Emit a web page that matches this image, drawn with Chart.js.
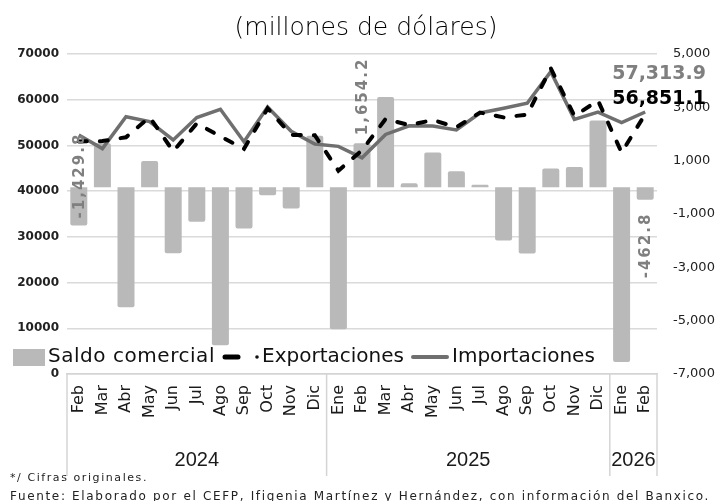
<!DOCTYPE html>
<html>
<head>
<meta charset="utf-8">
<script src="https://cdn.jsdelivr.net/npm/chart.js@4/dist/chart.umd.min.js"></script>
<style>
  html, body { margin: 0; padding: 0; background: #fff; }
</style>
</head>
<body>
<canvas id="chartSaldo" width="717" height="501"></canvas>
<script>
// meses de feb-2024 a feb-2026
const meses = ['Feb', 'Mar', 'Abr', 'May', 'Jun', 'Jul', 'Ago', 'Sep', 'Oct', 'Nov', 'Dic',
               'Ene', 'Feb', 'Mar', 'Abr', 'May', 'Jun', 'Jul', 'Ago', 'Sep', 'Oct', 'Nov', 'Dic',
               'Ene', 'Feb'];
const anios = ['2024', '2025', '2026'];
const mesesPorAnio = [11, 12, 2];

// millones de dolares
const saldoComercial = [-1429.8, 1650, -4500, 990, -2470, -1290, -5920, -1540, -300, -790, 1930,
                        -5320, 1654.2, 3390, 150, 1310, 600, 100, -1990, -2480, 710, 760, 2510,
                        -6550, -462.8];
const exportaciones = [50860, 50950, 51790, 56190, 48720, 54810, 51980, 49260, 58100, 52310, 52230,
                       44480, 48950, 55790, 54450, 55560, 53980, 57200, 56130, 56740, 66850, 56460, 59810,
                       48450, 56851.1];
const importaciones = [52290, 49300, 56290, 55200, 51190, 56100, 57900, 50800, 58400, 53100, 50300,
                       49800, 47300, 52400, 54300, 54250, 53380, 57100, 58120, 59220, 66140, 55700, 57300,
                       55000, 57313.9];

const FUENTE = 'DejaVu Sans';
const GRIS_BARRA = '#b9b9b9';
const GRIS_LINEA = '#6f6f6f';

const fmt = v => v.toLocaleString('en-US', { minimumFractionDigits: 1, maximumFractionDigits: 1 });

// estira el texto con letterSpacing hasta el ancho pedido
function textoAncho(ctx, txt, x, y, ancho) {
    ctx.letterSpacing = '0px';
    const w = ctx.measureText(txt).width;
    ctx.letterSpacing = ((ancho - w) / txt.length) + 'px';
    ctx.fillText(txt, x, y);
    ctx.letterSpacing = '0px';
}

const decoraciones = {
    id: 'decoraciones',
    afterDraw(chart) {
        const { ctx, chartArea: area, scales } = chart;
        const x = scales.x, yIzq = scales.y, yDer = scales.y1;
        ctx.save();

        // titulo
        ctx.fillStyle = '#000';
        ctx.font = `200 25px "${FUENTE}"`;
        ctx.textAlign = 'center';
        ctx.textBaseline = 'alphabetic';
        ctx.fillText('(millones de dólares)', 366, 35);

        // etiquetas rotadas del saldo
        ctx.fillStyle = '#7f7f7f';
        ctx.font = `bold 15px "${FUENTE}"`;
        ctx.letterSpacing = '2px';
        ctx.textBaseline = 'middle';
        [[0, 'left', 7], [12, 'left', 8], [24, 'right', -13]].forEach(([i, alin, desp]) => {
            const px = x.getPixelForValue(i);
            const py = yDer.getPixelForValue(saldoComercial[i]);
            ctx.save();
            ctx.translate(px + 1, py);
            ctx.rotate(-Math.PI / 2);
            ctx.textAlign = alin;
            ctx.fillText(fmt(saldoComercial[i]), desp, 0);
            ctx.restore();
        });
        ctx.letterSpacing = '0px';

        // ultimos valores de las lineas
        const ult = meses.length - 1;
        ctx.textAlign = 'left';
        ctx.textBaseline = 'alphabetic';
        ctx.font = `bold 19px "${FUENTE}"`;
        ctx.fillStyle = '#7f7f7f';
        ctx.fillText(fmt(importaciones[ult]), x.getPixelForValue(ult) - 33, yIzq.getPixelForValue(importaciones[ult]) - 33);
        ctx.fillStyle = '#000';
        ctx.fillText(fmt(exportaciones[ult]), x.getPixelForValue(ult) - 33, yIzq.getPixelForValue(exportaciones[ult]) - 10);

        // leyenda dentro del area
        const ly = 357;
        const ds = chart.data.datasets;
        ctx.font = `20px "${FUENTE}"`;
        ctx.textBaseline = 'middle';
        ctx.fillStyle = GRIS_BARRA;
        ctx.fillRect(13, 349, 32, 17);
        ctx.fillStyle = '#111';
        textoAncho(ctx, ds[0].label, 48, ly, 167);
        ctx.strokeStyle = '#000';
        ctx.lineWidth = 5;
        ctx.lineCap = 'round';
        ctx.beginPath(); ctx.moveTo(225, ly); ctx.lineTo(238, ly); ctx.stroke();
        ctx.beginPath(); ctx.arc(257, ly, 1.8, 0, Math.PI * 2); ctx.fill();
        ctx.fillText(ds[1].label, 262, ly);
        ctx.strokeStyle = GRIS_LINEA;
        ctx.lineWidth = 4;
        ctx.beginPath(); ctx.moveTo(413, ly); ctx.lineTo(447, ly); ctx.stroke();
        ctx.fillText(ds[2].label, 452, ly);

        // anios bajo los meses
        const borde = i => i === 0 ? area.left : (i === meses.length ? area.right
            : (x.getPixelForValue(i - 1) + x.getPixelForValue(i)) / 2);
        ctx.strokeStyle = '#d4d4d4';
        ctx.lineWidth = 1.5;
        ctx.lineCap = 'butt';
        ctx.font = `20px "Liberation Sans"`;
        ctx.fillStyle = '#1a1a1a';
        ctx.textAlign = 'center';
        ctx.textBaseline = 'alphabetic';
        let inicio = 0;
        anios.forEach((a, k) => {
            const fin = inicio + mesesPorAnio[k];
            const x0 = borde(inicio), x1 = borde(fin);
            ctx.beginPath(); ctx.moveTo(x0, area.bottom); ctx.lineTo(x0, 476); ctx.stroke();
            if (k === anios.length - 1) {
                ctx.beginPath(); ctx.moveTo(x1, area.bottom); ctx.lineTo(x1, 476); ctx.stroke();
            }
            ctx.fillText(a, (x0 + x1) / 2, 466);
            inicio = fin;
        });

        // notas
        ctx.textAlign = 'left';
        ctx.fillStyle = '#222';
        ctx.font = `11px "${FUENTE}"`;
        textoAncho(ctx, '*/ Cifras originales.', 10, 481, 138);
        ctx.font = `12px "${FUENTE}"`;
        textoAncho(ctx, 'Fuente: Elaborado por el CEFP, Ifigenia Martínez y Hernández, con información del Banxico.', 10, 500, 700);

        ctx.restore();
    }
};

new Chart(document.getElementById('chartSaldo'), {
    type: 'bar',
    data: {
        labels: meses,
        datasets: [
            {
                label: 'Saldo comercial',
                data: saldoComercial,
                yAxisID: 'y1',
                backgroundColor: GRIS_BARRA,
                borderRadius: 2,
                order: 3
            },
            {
                type: 'line',
                label: 'Exportaciones',
                data: exportaciones,
                yAxisID: 'y',
                borderColor: '#000',
                borderWidth: 4,
                borderDash: [8, 13],
                borderCapStyle: 'round',
                pointRadius: 0,
                tension: 0,
                order: 1
            },
            {
                type: 'line',
                label: 'Importaciones',
                data: importaciones,
                yAxisID: 'y',
                borderColor: GRIS_LINEA,
                borderWidth: 3.5,
                pointRadius: 0,
                tension: 0,
                order: 2
            }
        ]
    },
    options: {
        responsive: false,
        animation: false,
        layout: { padding: { top: 54, left: 0, right: 0, bottom: 0 } },
        plugins: {
            legend: { display: false },
            title: { display: false },
            tooltip: { enabled: false }
        },
        scales: {
            x: {
                grid: { display: false },
                border: { color: '#d4d4d4', width: 1.5 },
                ticks: {
                    autoSkip: false,
                    minRotation: 90,
                    maxRotation: 90,
                    padding: 3,
                    color: '#1a1a1a',
                    font: { family: FUENTE, size: 16 }
                },
                afterFit(s) { s.height = 127; }
            },
            y: {
                position: 'left',
                min: 0,
                max: 70000,
                ticks: {
                    stepSize: 10000,
                    padding: 8,
                    color: '#222',
                    font: { family: FUENTE, size: 12, weight: 'bold' },
                    callback: v => String(v)
                },
                grid: { color: '#dadada', lineWidth: 1.5, drawTicks: false },
                border: { display: false },
                afterFit(s) { s.width = 67; }
            },
            y1: {
                position: 'right',
                min: -7000,
                max: 5000,
                ticks: {
                    stepSize: 2000,
                    padding: 16,
                    color: '#222',
                    font: { family: FUENTE, size: 13 },
                    callback: v => v.toLocaleString('en-US')
                },
                grid: { display: false, drawTicks: false },
                border: { display: false },
                afterFit(s) { s.width = 60; }
            }
        }
    },
    plugins: [decoraciones]
});
</script>
</body>
</html>
